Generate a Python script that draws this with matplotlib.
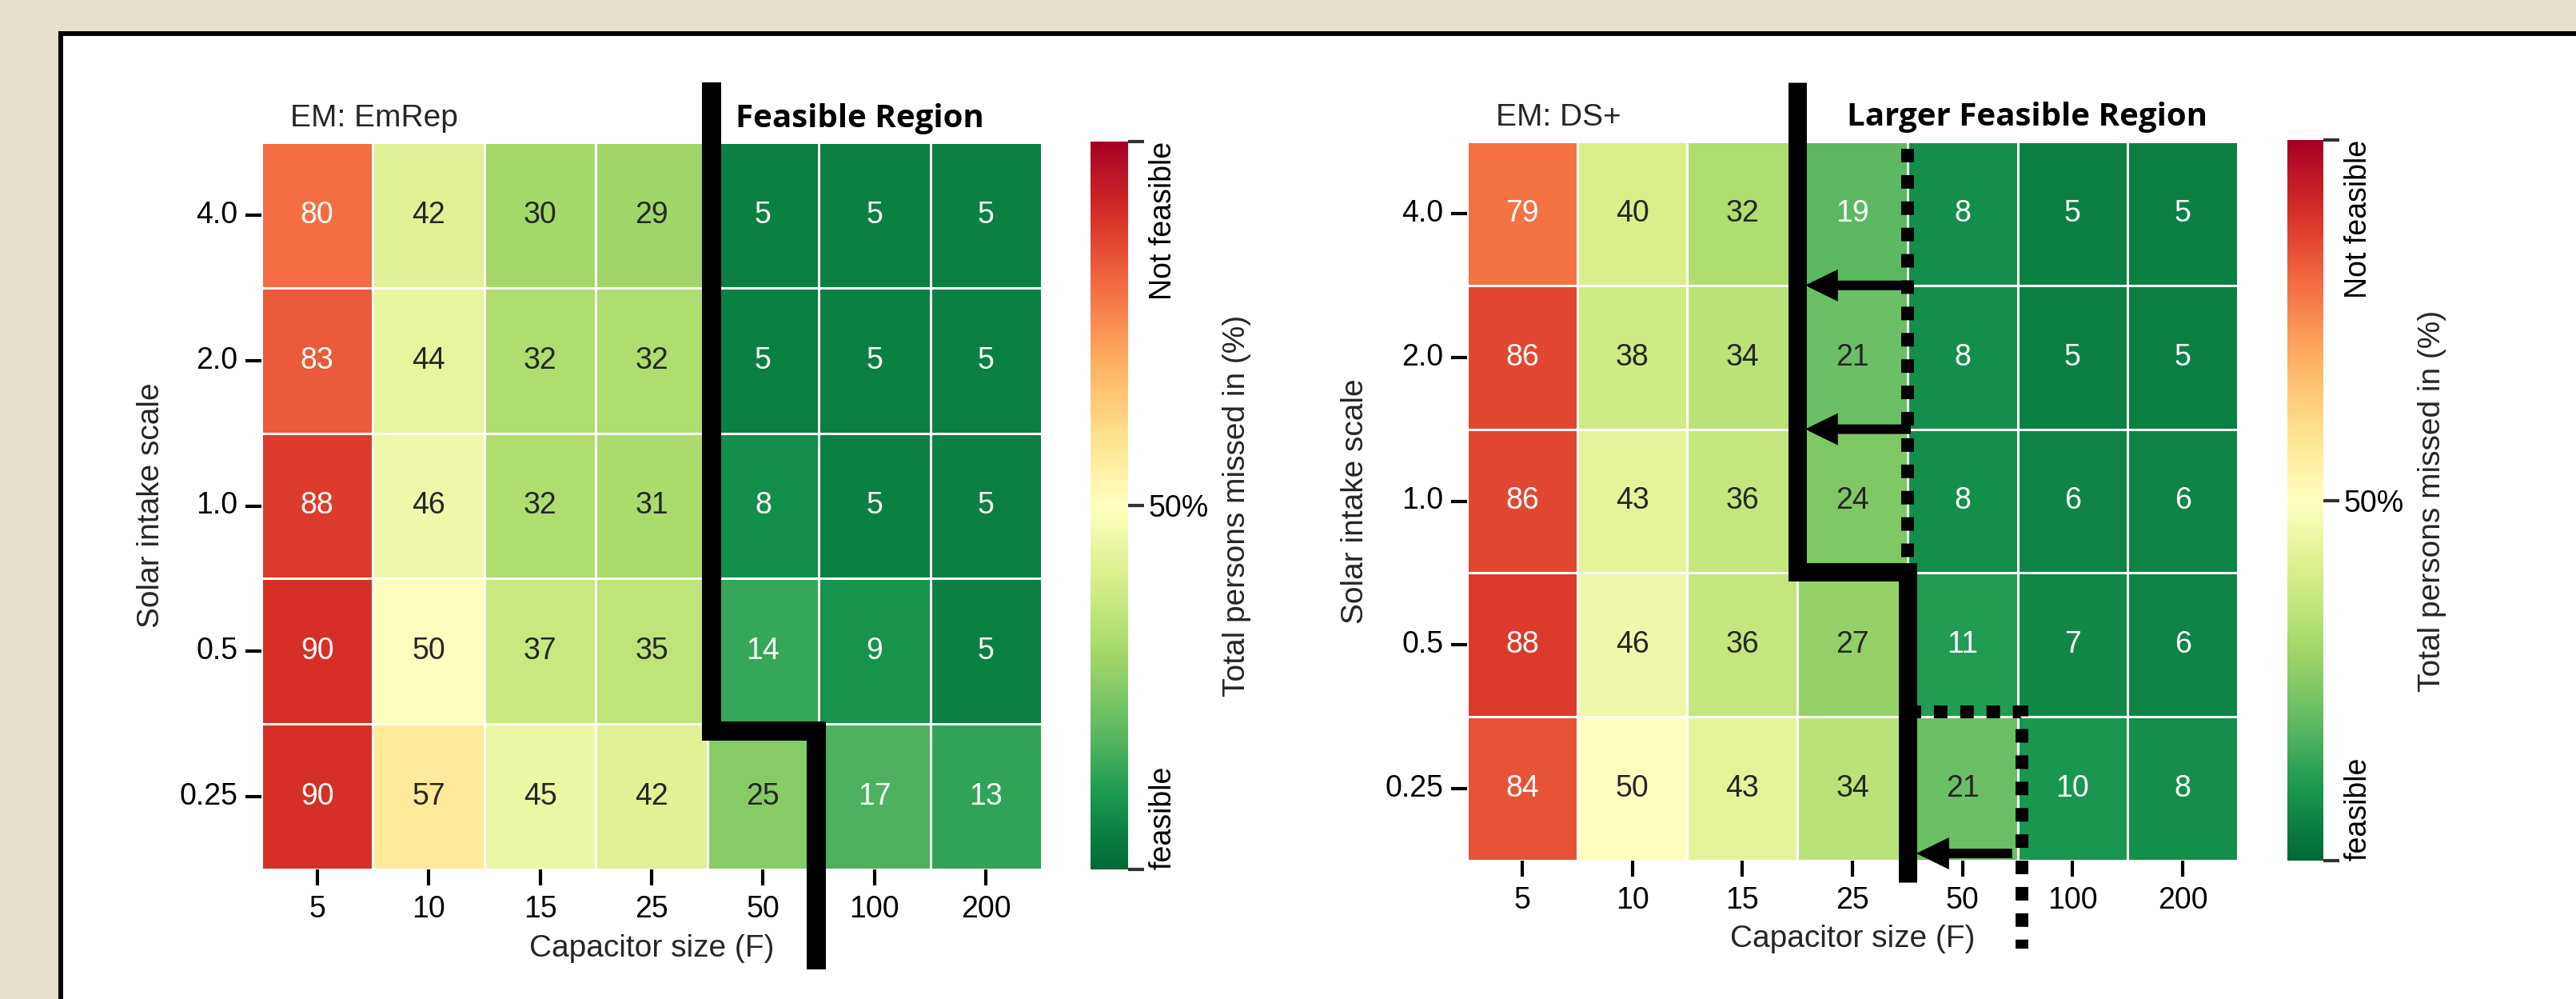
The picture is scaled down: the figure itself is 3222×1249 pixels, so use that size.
import numpy as np
import matplotlib
matplotlib.use('Agg')
import matplotlib.pyplot as plt
from matplotlib.patches import Rectangle
import seaborn as sns

plt.rcParams['font.family'] = ['Liberation Sans', 'DejaVu Sans']
plt.rcParams['text.color'] = '#262626'

capacitor = ['5', '10', '15', '25', '50', '100', '200']
solar = ['4.0', '2.0', '1.0', '0.5', '0.25']

emrep = [[80, 42, 30, 29, 5, 5, 5],
         [83, 44, 32, 32, 5, 5, 5],
         [88, 46, 32, 31, 8, 5, 5],
         [90, 50, 37, 35, 14, 9, 5],
         [90, 57, 45, 42, 25, 17, 13]]

dsplus = [[79, 40, 32, 19, 8, 5, 5],
          [86, 38, 34, 21, 8, 5, 5],
          [86, 43, 36, 24, 8, 6, 6],
          [88, 46, 36, 27, 11, 7, 6],
          [84, 50, 43, 34, 21, 10, 8]]

W, H = 3222, 1249
FS = 27


def box(x0, y0, x1, y1):
    return [x0 / W, 1 - y1 / H, (x1 - x0) / W, (y1 - y0) / H]


def fx(x):
    return x / W


def fy(y):
    return 1 - y / H


fig = plt.figure(figsize=(W / 100, H / 100), dpi=100, facecolor='#E5DFCC')
fig.patches.append(Rectangle((fx(75.5), -0.1), 1.2, fy(42) + 0.1, transform=fig.transFigure,
                             facecolor='white', edgecolor='black', linewidth=4.3, zorder=-10))

axL = fig.add_axes(box(327, 178, 1303, 1087))
caxL = fig.add_axes(box(1364, 177, 1411, 1087))
axR = fig.add_axes(box(1835, 177, 2799, 1076))
caxR = fig.add_axes(box(2861, 175, 2906, 1076))


def draw_map(ax, cax, data, title):
    sns.heatmap(np.array(data), ax=ax, cbar_ax=cax, cmap='RdYlGn_r', vmin=0, vmax=100,
                annot=True, fmt='d', annot_kws={'size': FS},
                linewidths=1, linecolor='white',
                xticklabels=capacitor, yticklabels=solar)
    ax.set_yticklabels(solar, rotation=0)
    ax.set_xticklabels(capacitor, rotation=0)
    ax.tick_params(axis='both', labelsize=FS, length=14.4, width=3, color='black')
    ax.tick_params(axis='y', pad=7)
    ax.tick_params(axis='x', pad=8.5)
    ax.text(0.26, 1.022, title, transform=ax.get_xaxis_transform(), fontsize=FS + 1,
            va='baseline', ha='left')

    cb = ax.collections[0].colorbar
    cb.set_ticks([0, 50, 100])
    cb.set_ticklabels(['feasible', '50%', 'Not feasible'])
    cax.tick_params(labelsize=FS, length=14.4, width=3, color='#333333', pad=4)
    labels = cax.get_yticklabels()
    labels[0].set_rotation(90)
    labels[0].set_va('bottom')
    labels[2].set_rotation(90)
    labels[2].set_va('top')


draw_map(axL, caxL, emrep, 'EM: EmRep')
draw_map(axR, caxR, dsplus, 'EM: DS+')

# axis labels
for xc, yc in [(815, 1186), (2317, 1174)]:
    fig.text(fx(xc), fy(yc), 'Capacitor size (F)', fontsize=FS + 1, ha='center', va='center')
for xc, yc in [(189, 632), (1695, 627)]:
    fig.text(fx(xc), fy(yc), 'Solar intake scale', fontsize=FS + 1, ha='center', va='center',
             rotation=90)
for xc, yc in [(1547, 632), (3042, 626)]:
    fig.text(fx(xc), fy(yc), 'Total persons missed in (%)', fontsize=FS + 1, ha='center',
             va='center', rotation=90)

# region headings
bold = dict(fontsize=29, fontweight='bold', family='Open Sans', color='black',
            va='baseline', ha='left')
axL.text(4.25, 1.021, 'Feasible Region', transform=axL.get_xaxis_transform(), **bold)
axR.text(3.45, 1.022, 'Larger Feasible Region', transform=axR.get_xaxis_transform(), **bold)

solid = dict(color='black', clip_on=False, zorder=5, solid_joinstyle='miter',
             solid_capstyle='butt')
dashed = dict(color='black', clip_on=False, zorder=5, linestyle=(0, (1.06, 1.0)),
              dash_capstyle='butt', dash_joinstyle='miter')

# feasible boundary, left
axL.plot([4.04, 4.04, 4.98, 4.98], [-0.41, 4.05, 4.05, 5.69], lw=17.3, **solid)

# feasible boundary, right
axR.plot([4.0, 4.0], [0.05, 2.95], lw=11.5, **dashed)
axR.plot([4.0, 5.04, 5.04], [3.966, 3.966, 5.61], lw=11.5, **dashed)
axR.plot([3.0, 3.0, 4.0, 4.0], [-0.41, 2.99, 2.99, 5.15], lw=16.5, **solid)

arrow = dict(arrowstyle='simple,head_length=29.5,head_width=28.8,tail_width=8.6',
             mutation_scale=1, color='black', lw=0, shrinkA=0, shrinkB=0)
for y, x0, x1 in [(1.0, 4.03, 3.07), (2.0, 4.03, 3.07), (4.95, 4.95, 4.08)]:
    axR.annotate('', xy=(x1, y), xytext=(x0, y), arrowprops=arrow,
                 annotation_clip=False, zorder=6)

fig.savefig('out.png', dpi=100, facecolor=fig.get_facecolor())
